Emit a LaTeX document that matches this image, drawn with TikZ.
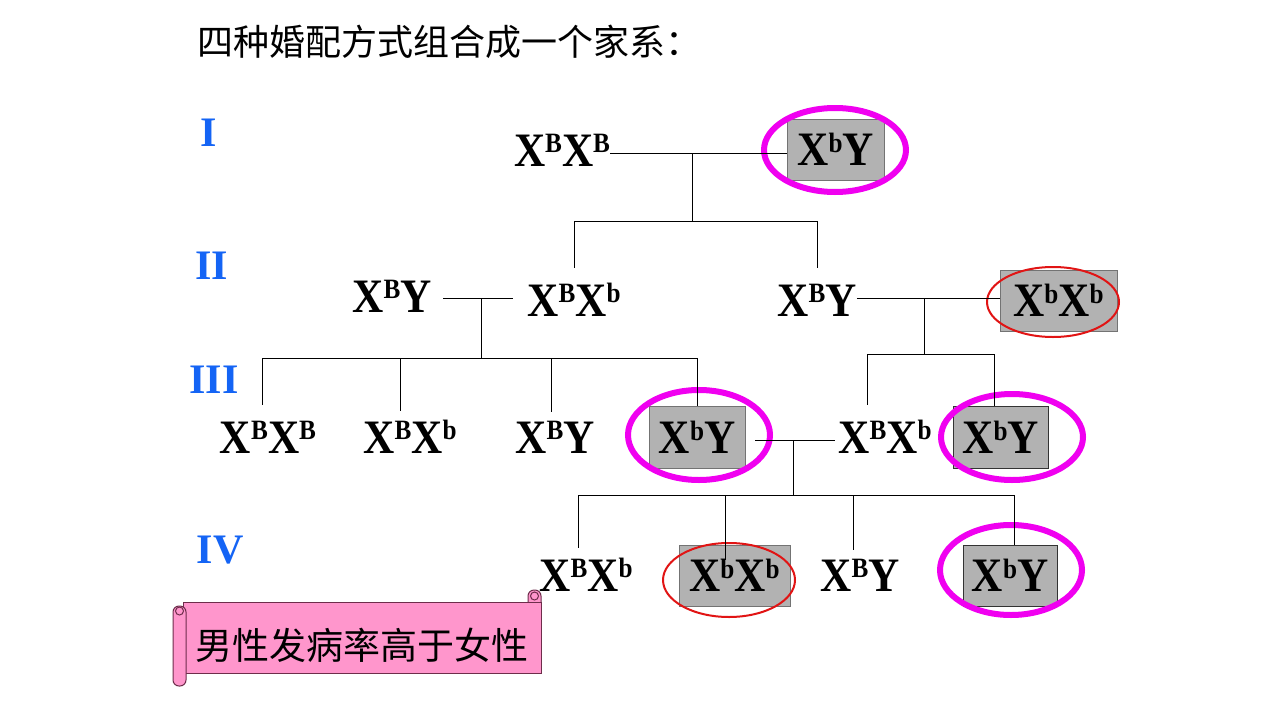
\documentclass[tikz,border=0pt]{standalone}
\usepackage{fontspec}
\setmainfont{Liberation Serif}
\newfontfamily\cjk{Noto Sans CJK SC}
\usepackage{graphicx}
\usetikzlibrary{shapes.geometric}
\definecolor{mag}{RGB}{240,0,240}
\definecolor{ringred}{RGB}{225,20,20}
\definecolor{boxgray}{RGB}{178,178,178}
\definecolor{romanblue}{RGB}{20,100,245}
\definecolor{scrollpink}{RGB}{255,150,204}
\definecolor{scrollline}{RGB}{110,45,75}
\newcommand\gsup[1]{\raisebox{13.3pt}{\fontsize{28}{28}\selectfont #1}}
\newcommand\G[1]{\scalebox{0.9}[1]{#1}}
\tikzset{
  gt/.style={font=\fontsize{48}{48}\selectfont\bfseries, inner sep=0pt},
  gtb/.style={gt, anchor=base},
  sick/.style={gt, fill=boxgray, draw=black!55, line width=0.8pt, minimum height=61pt},
  ln/.style={line width=0.8pt, black},
  magring/.style={ellipse, draw=mag, line width=6pt, inner sep=0pt},
  redring/.style={ellipse, draw=ringred, line width=2pt, inner sep=0pt},
  roman/.style={font=\fontsize{42}{42}\selectfont\bfseries, text=romanblue, inner sep=0pt, anchor=base},
  scroll/.style={fill=scrollpink, draw=scrollline, line width=1pt}
}
\begin{document}
\begin{tikzpicture}[x=1pt,y=-1pt]
\fill[white] (0,0) rectangle (1280,720);
\path[use as bounding box] (0,0) rectangle (1280,720);

% title
\node[anchor=west, font=\cjk\fontsize{36}{36}\selectfont, inner sep=0pt] (title) at (197,42) {四种婚配方式组合成一个家系：};

% generation labels
\node[roman] (g1) at (209,146) {I};
\node[roman] (g2) at (212,279) {II};
\node[roman] (g3) at (214,393) {III};
\node[roman] (g4) at (220,563) {IV};

% ---------- Generation I
\node[gtb] (i1) at (562,166) {\G{X\gsup{B}X\gsup{B}}};
\node[sick, minimum width=97pt] (i2) at (835.5,149.5) {\G{X\gsup{b}Y}};
\node[magring, minimum width=142pt, minimum height=84pt] (e1) at (835,150) {};
\coordinate (m1) at (692,153);
\draw[ln] (i1.east |- m1) -- (i2.west |- m1);
\coordinate (s1) at (692,221);
\draw[ln] (m1) -- (s1);

% ---------- Generation II
\node[gtb] (ii1) at (392,312) {\G{X\gsup{B}Y}};
\node[gtb] (ii2) at (574,316) {\G{X\gsup{B}X\gsup{b}}};
\node[gtb] (ii3) at (817,316) {\G{X\gsup{B}Y}};
\node[sick, minimum width=117pt] (ii4) at (1058.5,300.5) {\G{X\gsup{b}X\gsup{b}}};
\node[redring, minimum width=132pt, minimum height=70pt] (e2) at (1053,302) {};

\draw[ln] (ii2 |- s1) -- (ii3 |- s1);
\draw[ln] (ii2 |- s1) -- ++(0,47);
\draw[ln] (ii3 |- s1) -- ++(0,47);

\coordinate (m2) at (481,298);
\draw[ln] (443,298) -- (513,298);
\coordinate (s2) at (481,358);
\draw[ln] (m2) -- (s2);

\coordinate (m3) at (924,298);
\draw[ln] (ii3.east |- m3) -- (ii4.west |- m3);
\coordinate (s3) at (924,354);
\draw[ln] (m3) -- (s3);

% ---------- Generation III
\node[gtb] (iii1) at (268,453) {\G{X\gsup{B}X\gsup{B}}};
\node[gtb] (iii2) at (410,453) {\G{X\gsup{B}X\gsup{b}}};
\node[gtb] (iii3) at (555,453) {\G{X\gsup{B}Y}};
\node[sick, minimum width=96pt, minimum height=62pt] (iii4) at (697,437) {\G{X\gsup{b}Y}};
\node[magring, minimum width=142pt, minimum height=90pt] (e3) at (699,435) {};
\node[gtb] (iii5) at (885,453) {\G{X\gsup{B}X\gsup{b}}};
\node[sick, minimum width=95pt, minimum height=62pt, draw=black!80] (iii6) at (1000.5,437) {\G{X\gsup{b}Y}};
\node[magring, minimum width=142pt, minimum height=86pt] (e4) at (1012,437) {};

\coordinate (s2l) at (262,358);
\coordinate (s2r) at (697,358);
\draw[ln] (s2l) -- (s2r);
\draw[ln] (s2l) -- ++(0,47);
\draw[ln] (400,358) -- ++(0,53);
\draw[ln] (551,358) -- ++(0,54);
\draw[ln] (s2r) -- (iii4.north);

\coordinate (s3l) at (867,354);
\coordinate (s3r) at (994,354);
\draw[ln] (s3l) -- (s3r);
\draw[ln] (s3l) -- ++(0,51);
\draw[ln] (s3r) -- (iii6.north -| s3r);

\coordinate (m4) at (793,440);
\draw[ln] (755,440) -- (835,440);
\coordinate (s4) at (793,495);
\draw[ln] (m4) -- (s4);

% ---------- Generation IV
\node[gtb] (iv1) at (586,591) {\G{X\gsup{B}X\gsup{b}}};
\node[sick, minimum width=111pt] (iv2) at (734.5,575.5) {\G{X\gsup{b}X\gsup{b}}};
\node[redring, minimum width=132pt, minimum height=74pt] (e5) at (729,580) {};
\node[gtb] (iv3) at (860,591) {\G{X\gsup{B}Y}};
\node[sick, minimum width=94pt, draw=black!80] (iv4) at (1010,575.5) {\G{X\gsup{b}Y}};
\node[magring, minimum width=142pt, minimum height=90pt] (e6) at (1011,570) {};

\coordinate (s4l) at (578,495);
\coordinate (s4r) at (1014,495);
\draw[ln] (s4l) -- (s4r);
\draw[ln] (s4l) -- ++(0,53);
\draw[ln] (725,495) -- (725,560);
\draw[ln] (853,495) -- ++(0,55);
\draw[ln] (s4r) -- (iv4.north -| s4r);

% ---------- scroll banner
\draw[scroll, rounded corners=6pt] (528,590) rectangle (541,612);
\draw[scroll] (183,602) rectangle (541,673);
\draw[scroll] (534.5,596) circle [radius=4];
\draw[scroll, rounded corners=6pt] (173,606) rectangle (186,686);
\draw[scroll] (179.5,611) circle [radius=4];
\node[font=\cjk\fontsize{37}{37}\selectfont, inner sep=0pt] (note) at (362,645) {男性发病率高于女性};
\end{tikzpicture}
\end{document}
